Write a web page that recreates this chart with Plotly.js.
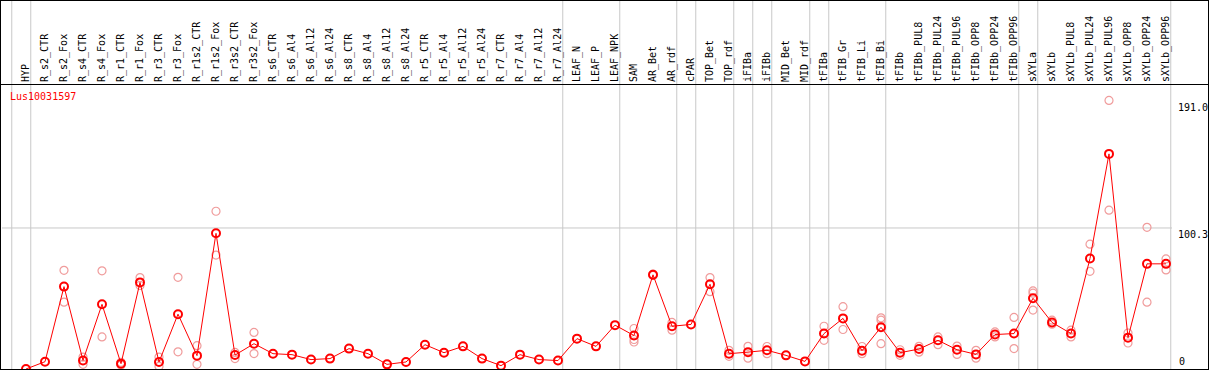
<!DOCTYPE html>
<html><head><meta charset="utf-8">
<script src="https://cdn.plot.ly/plotly-3.0.1.min.js"></script>
<style>
html,body{margin:0;padding:0;background:#fff;}
#frame{position:absolute;left:0;top:0;width:1207px;height:368px;border:1px solid #000;}
#chart{width:1207px;height:368px;}
</style></head>
<body><div id="frame"><div id="chart"></div></div>
<script>
const geneId = 'Lus10031597';

const categories = ['HYP','R_s2_CTR','R_s2_Fox','R_s4_CTR','R_s4_Fox','R_r1_CTR','R_r1_Fox','R_r3_CTR','R_r3_Fox',
  'R_r1s2_CTR','R_r1s2_Fox','R_r3s2_CTR','R_r3s2_Fox','R_s6_CTR','R_s6_Al4','R_s6_Al12','R_s6_Al24',
  'R_s8_CTR','R_s8_Al4','R_s8_Al12','R_s8_Al24','R_r5_CTR','R_r5_Al4','R_r5_Al12','R_r5_Al24',
  'R_r7_CTR','R_r7_Al4','R_r7_Al12','R_r7_Al24','LEAF_N','LEAF_P','LEAF_NPK','SAM','AR_Bet','AR_rdf',
  'cPAR','TOP_Bet','TOP_rdf','iFIBa','iFIBb','MID_Bet','MID_rdf','tFIBa','tFIB_Gr','tFIB_Li','tFIB_Bi',
  'tFIBb','tFIBb_PUL8','tFIBb_PUL24','tFIBb_PUL96','tFIBb_OPP8','tFIBb_OPP24','tFIBb_OPP96',
  'sXYLa','sXYLb','sXYLb_PUL8','sXYLb_PUL24','sXYLb_PUL96','sXYLb_OPP8','sXYLb_OPP24','sXYLb_OPP96'];

const meanExpr = [0, 5.2, 58.6, 6.1, 46.0, 3.8, 61.6, 5.0, 39.0,
  9.5, 96.5, 9.9, 18.0, 10.9, 10.2, 6.7, 7.4,
  14.5, 10.9, 3.3, 5.0, 17.3, 11.6, 16.1, 7.4,
  2.4, 10.2, 6.7, 6.0, 21.6, 16.1, 31.2, 23.8, 67.0, 30.4,
  31.7, 60.3, 10.9, 12.0, 13.3, 9.7, 5.4, 25.2, 36.0, 13.0, 29.7,
  11.6, 14.2, 20.4, 13.7, 10.4, 24.5, 25.2,
  50.3, 33.1, 25.2, 78.6, 153.0, 22.3, 74.8, 74.8];

const repHigh = [null, null, 70.2, 8.5, 69.8, 4.8, 65.0, 8.5, 65.2,
  16.6, 112.2, 11.8, 26.0, null, null, null, null,
  null, null, null, null, null, null, null, null,
  null, null, null, null, null, null, null, 28.8, 67.5, 33.1,
  null, 65.0, 13.3, 16.1, 16.0, null, null, 30.4, 44.3, 16.0, 36.4,
  13.7, 16.1, 22.8, 16.3, 13.3, 26.4, 36.7,
  55.5, 34.7, 27.6, 88.8, 191.0, 25.6, 100.8, 78.3];

const repLow = [null, null, 47.5, 3.3, 22.8, 2.8, 59.4, 1.9, 12.2,
  3.3, 81.0, 7.4, 11.0, null, null, null, null,
  null, null, null, null, null, null, null, null,
  null, null, null, null, null, null, null, 19.2, 66.5, 27.6,
  null, 55.0, 9.0, 7.7, 10.9, null, null, 20.4, 28.1, 10.9, 18.0,
  9.7, 12.0, 17.3, 10.4, 7.7, 22.8, 14.5,
  41.9, 31.9, 22.8, 69.5, 113.0, 18.5, 47.5, 70.5];

const repExtra = [null, null, null, null, null, null, null, null, null,
  null, null, null, null, null, null, null, null,
  null, null, null, null, null, null, null, null,
  null, null, null, null, null, null, null, 21.0, null, null,
  null, null, null, null, null, null, null, null, null, null, 34.7,
  null, null, null, null, null, null, null,
  53.9, null, null, null, null, null, null, null];

// groups: a separator is drawn after each of these categories
const groupEnds = ['HYP','R_r7_Al24','LEAF_NPK','AR_rdf','cPAR','TOP_rdf','iFIBa','iFIBb','MID_rdf',
  'tFIBa','tFIB_Bi','tFIBb_OPP96','sXYLa','sXYLb_OPP96'];

const yTickVals = [100.3, 191.0];
const yTickText = ['100.3', '191.0'];
const yZeroLabel = '0';

const xIdx = categories.map((_, i) => i);
const mono = 'DejaVu Sans Mono, Liberation Mono, monospace';
const repColor = '#f09c9c';

function repTrace(vals) {
  return {x: xIdx, y: vals, type: 'scatter', mode: 'markers', hoverinfo: 'skip',
    marker: {symbol: 'circle-open', size: 8, color: repColor, line: {width: 1.2, color: repColor}}};
}

const traces = [repTrace(repHigh), repTrace(repLow), repTrace(repExtra), {
  x: xIdx, y: meanExpr, type: 'scatter', mode: 'lines+markers', hoverinfo: 'skip',
  line: {color: '#ff0000', width: 1},
  marker: {symbol: 'circle-open', size: 8, color: '#ff0000', line: {width: 2, color: '#ff0000'}}
}];

const W = 1207, H = 368, mL = 1, mR = 36, mT = 84, mB = 0;
const plotW = W - mL - mR, plotH = H - mT - mB;
const x0 = -1.2632, x1 = x0 + plotW / 19;

const sepIdx = [-1].concat(groupEnds.map(n => categories.indexOf(n)));
const shapes = sepIdx.map(i => ({
  type: 'line', xref: 'x', yref: 'paper', x0: i + 0.25, x1: i + 0.25, y0: 0, y1: 1 + mT / plotH,
  line: {color: '#c8c8c8', width: 1}, layer: 'below'
}));
shapes.push({type: 'line', xref: 'paper', yref: 'y', x0: 0, x1: 1, y0: yTickVals[0], y1: yTickVals[0],
  line: {color: '#c8c8c8', width: 1}, layer: 'below'});
shapes.push({type: 'line', xref: 'paper', yref: 'paper', x0: -mL / plotW, x1: 1 + mR / plotW,
  y0: 1 + 0.5 / plotH, y1: 1 + 0.5 / plotH, line: {color: '#000', width: 1}});

const layout = {
  width: W, height: H,
  margin: {l: mL, r: mR, t: mT, b: mB, pad: 0},
  paper_bgcolor: '#fff', plot_bgcolor: '#fff',
  showlegend: false, hovermode: false,
  xaxis: {
    range: [x0, x1], side: 'top', tickvals: xIdx, ticktext: categories,
    tickangle: -90, ticks: '', showgrid: false, zeroline: false, showline: false,
    ticklabelstandoff: 2, tickfont: {family: mono, size: 10, color: '#000'}
  },
  yaxis: {
    range: [0, 202], side: 'right', tickvals: yTickVals, ticktext: yTickText,
    ticklabelposition: 'outside bottom', ticks: '', showgrid: false, zeroline: false, showline: false,
    ticklabelstandoff: 5, tickfont: {family: mono, size: 10, color: '#000'}
  },
  shapes: shapes,
  annotations: [
    {text: geneId, xref: 'paper', yref: 'paper', x: 6 / plotW, y: 1 - 12 / plotH,
     xanchor: 'left', yanchor: 'middle', showarrow: false,
     font: {family: mono, size: 10, color: '#ff0000'}},
    {text: yZeroLabel, xref: 'paper', yref: 'y', x: 1, y: 0, xanchor: 'left', yanchor: 'bottom',
     xshift: 5, yshift: 0, showarrow: false, font: {family: mono, size: 10, color: '#000'}}
  ]
};

Plotly.newPlot('chart', traces, layout, {staticPlot: true, displayModeBar: false});
</script>
</body></html>
